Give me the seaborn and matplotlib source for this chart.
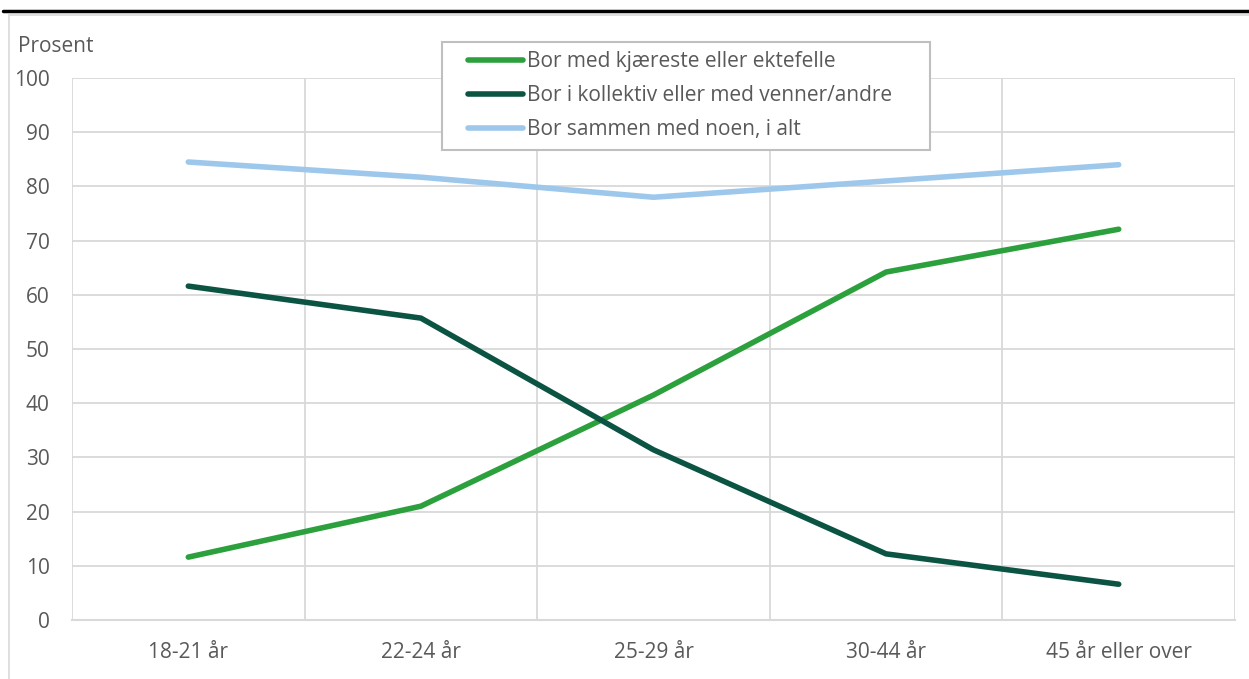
import pandas as pd
import matplotlib.pyplot as plt
import seaborn as sns
from matplotlib.lines import Line2D
from matplotlib.patches import Rectangle

sns.set_style("white")
plt.rcParams['font.family'] = ['Open Sans', 'DejaVu Sans']

# Data
aldersgrupper = ['18-21 år', '22-24 år', '25-29 år', '30-44 år', '45 år eller over']
kjaereste = [11.6, 21.0, 41.5, 64.2, 72.1]
kollektiv = [61.6, 55.7, 31.4, 12.2, 6.6]
i_alt = [84.5, 81.7, 78.0, 81.0, 84.0]

serier = ['Bor med kjæreste eller ektefelle',
          'Bor i kollektiv eller med venner/andre',
          'Bor sammen med noen, i alt']
farger = ['#2ca03c', '#0b5444', '#9dc8ec']

rows = []
for navn, verdier in zip(serier, [kjaereste, kollektiv, i_alt]):
    for i, v in enumerate(verdier):
        rows.append({'pos': i, 'Prosent': v, 'serie': navn})
df = pd.DataFrame(rows)

W, H = 1249, 679
fig = plt.figure(figsize=(W / 100, H / 100), dpi=100)
ax = fig.add_axes([72 / W, 59 / H, 1163 / W, 542 / H])

sns.lineplot(data=df, x='pos', y='Prosent', hue='serie', hue_order=serier,
             palette=farger, linewidth=4, ax=ax, legend=False,
             solid_capstyle='round')

grid = '#d9d9d9'
txt = '#595959'
fs = 15
ax.set_xlim(-0.5, 4.5)
ax.set_ylim(0, 100)
ax.set_yticks(range(0, 101, 10))
ax.set_xticks(range(5))
ax.set_xticklabels(aldersgrupper)
ax.set_xticks([x + 0.5 for x in range(-1, 5)], minor=True)
ax.grid(True, axis='y', color=grid, linewidth=1.3)
ax.grid(True, axis='x', which='minor', color=grid, linewidth=1.3)
ax.grid(False, axis='x', which='major')
ax.tick_params(axis='both', which='both', length=0, labelsize=fs, colors=txt)
ax.tick_params(axis='y', pad=16)
ax.tick_params(axis='x', pad=16)
ax.set_xlabel('')
ax.set_ylabel('')
for s in ax.spines.values():
    s.set_visible(False)
ax.spines['bottom'].set_visible(True)
ax.spines['bottom'].set_color(grid)
ax.spines['bottom'].set_linewidth(1.5)

# legend (Excel-style wide box drawn separately)
ax.add_patch(Rectangle((442 / W, 1 - 150 / H), 488 / W, 108 / H, transform=fig.transFigure,
                       facecolor='white', edgecolor='#bfbfbf', linewidth=1.5, zorder=5,
                       clip_on=False))
handles = [Line2D([], [], color=c, linewidth=4, solid_capstyle='round') for c in farger]
leg = ax.legend(handles, serier, loc='upper left',
                bbox_to_anchor=((468 - 72) / 1163, (620 - 51) / 542),
                frameon=False, fontsize=fs, handlelength=2.65,
                handletextpad=0.2, labelspacing=0.62, borderpad=0,
                borderaxespad=0)
leg.set_zorder(6)
for t in leg.get_texts():
    t.set_color(txt)

fig.text(18 / W, 1 - 46 / H, 'Prosent', fontsize=fs, color=txt, va='center', ha='left')

# frame lines
fig.add_artist(Line2D([3 / W, 1], [1 - 11 / H] * 2, color='black', linewidth=2.5,
                      transform=fig.transFigure))
fig.add_artist(Line2D([9 / W, 1], [1 - 14.5 / H] * 2, color='#d9d9d9', linewidth=1.2,
                      transform=fig.transFigure))
fig.add_artist(Line2D([9 / W] * 2, [0, 1 - 14.5 / H], color='#d9d9d9', linewidth=1.2,
                      transform=fig.transFigure))

plt.savefig('out.png', dpi=100)
plt.close()
